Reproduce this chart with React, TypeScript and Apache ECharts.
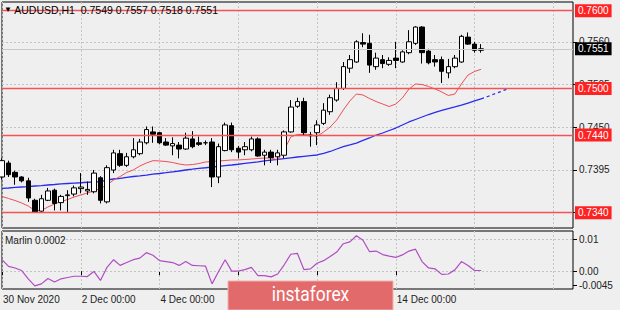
import React, { useEffect, useRef } from 'react';
import * as echarts from 'echarts';

const FONT = '"Liberation Sans", Arial, sans-serif';

const titleSymbol = 'AUDUSD,H1';
const titleOHLC = [0.7549, 0.7557, 0.7518, 0.7551];

const tickLabels = ['30 Nov 2020', '2 Dec 00:00', '4 Dec 00:00', '8 Dec 00:00', '10 Dec 00:00', '14 Dec 00:00', '16 Dec 00:00'];
const barsPerTick = 12;
const slotCount = 88;

// [open, close, low, high]
const candles = [
  [0.7386, 0.7407, 0.7383, 0.7410], [0.7404, 0.7389, 0.7386, 0.7407], [0.7392, 0.7386, 0.7376, 0.7394],
  [0.7386, 0.7381, 0.7379, 0.7387], [0.7381, 0.7359, 0.7354, 0.7385], [0.7356, 0.7341, 0.7340, 0.7358],
  [0.7342, 0.7358, 0.7341, 0.7363], [0.7356, 0.7368, 0.7355, 0.7372], [0.7369, 0.7352, 0.7343, 0.7371],
  [0.7353, 0.7361, 0.7343, 0.7363], [0.7362, 0.7363, 0.7341, 0.7369], [0.7364, 0.7372, 0.7361, 0.7375],
  [0.7371, 0.7373, 0.7365, 0.7391], [0.7368, 0.7370, 0.7363, 0.7380], [0.7367, 0.7391, 0.7365, 0.7395],
  [0.7385, 0.7356, 0.7352, 0.7387], [0.7354, 0.7398, 0.7352, 0.7401], [0.7395, 0.7417, 0.7391, 0.7421],
  [0.7416, 0.7401, 0.7399, 0.7421], [0.7401, 0.7412, 0.7399, 0.7417], [0.7412, 0.7421, 0.7410, 0.7436],
  [0.7416, 0.7431, 0.7414, 0.7435], [0.7430, 0.7447, 0.7428, 0.7451], [0.7444, 0.7441, 0.7430, 0.7451],
  [0.7443, 0.7430, 0.7428, 0.7444], [0.7431, 0.7427, 0.7426, 0.7436], [0.7426, 0.7429, 0.7414, 0.7437],
  [0.7427, 0.7422, 0.7410, 0.7431], [0.7422, 0.7436, 0.7421, 0.7443], [0.7435, 0.7425, 0.7423, 0.7445],
  [0.7430, 0.7428, 0.7426, 0.7438], [0.7430, 0.7430, 0.7427, 0.7433], [0.7431, 0.7386, 0.7373, 0.7436],
  [0.7386, 0.7425, 0.7378, 0.7429], [0.7420, 0.7453, 0.7419, 0.7456], [0.7452, 0.7421, 0.7418, 0.7456],
  [0.7423, 0.7418, 0.7410, 0.7426], [0.7421, 0.7425, 0.7414, 0.7431], [0.7421, 0.7435, 0.7419, 0.7438],
  [0.7435, 0.7413, 0.7412, 0.7437], [0.7414, 0.7418, 0.7401, 0.7421], [0.7418, 0.7411, 0.7404, 0.7421],
  [0.7412, 0.7417, 0.7401, 0.7421], [0.7414, 0.7444, 0.7410, 0.7446], [0.7444, 0.7476, 0.7443, 0.7485],
  [0.7477, 0.7483, 0.7475, 0.7488], [0.7483, 0.7443, 0.7440, 0.7488], [0.7440, 0.7439, 0.7425, 0.7444],
  [0.7443, 0.7453, 0.7427, 0.7459], [0.7455, 0.7472, 0.7453, 0.7481], [0.7470, 0.7488, 0.7466, 0.7492],
  [0.7485, 0.7500, 0.7483, 0.7508], [0.7500, 0.7528, 0.7498, 0.7534], [0.7526, 0.7537, 0.7520, 0.7543],
  [0.7534, 0.7560, 0.7533, 0.7562], [0.7559, 0.7557, 0.7553, 0.7571], [0.7558, 0.7530, 0.7520, 0.7569],
  [0.7528, 0.7539, 0.7524, 0.7546], [0.7537, 0.7532, 0.7526, 0.7543], [0.7531, 0.7536, 0.7529, 0.7540],
  [0.7539, 0.7536, 0.7526, 0.7560], [0.7534, 0.7547, 0.7533, 0.7549], [0.7546, 0.7560, 0.7544, 0.7575],
  [0.7558, 0.7579, 0.7556, 0.7580], [0.7579, 0.7546, 0.7532, 0.7580], [0.7548, 0.7533, 0.7531, 0.7551],
  [0.7537, 0.7534, 0.7528, 0.7543], [0.7537, 0.7522, 0.7507, 0.7541], [0.7520, 0.7528, 0.7513, 0.7538],
  [0.7528, 0.7539, 0.7526, 0.7543], [0.7534, 0.7567, 0.7533, 0.7569], [0.7566, 0.7557, 0.7556, 0.7572],
  [0.7557, 0.7549, 0.7546, 0.7560], [0.7549, 0.7551, 0.7546, 0.7557],
];

const fastMA = [
  0.73609, 0.73583, 0.73557, 0.73525, 0.73486, 0.73429, 0.73429, 0.73474, 0.73512, 0.73544,
  0.7357, 0.73602, 0.73628, 0.73654, 0.7368, 0.73712, 0.73757, 0.73821, 0.73866, 0.73918,
  0.7395, 0.74001, 0.7404, 0.7407, 0.74066, 0.74059, 0.74046, 0.74027, 0.74014, 0.7402,
  0.74033, 0.74053, 0.74059, 0.74066, 0.74072, 0.74079, 0.74079, 0.74085, 0.74091, 0.74098,
  0.74104, 0.74104, 0.74079, 0.74207, 0.74375, 0.74407, 0.74407, 0.744, 0.74381, 0.74439,
  0.74503, 0.74593, 0.74722, 0.74838, 0.74928, 0.74915, 0.7487, 0.74831, 0.74799, 0.74767,
  0.74799, 0.74876, 0.74992, 0.75057, 0.7505, 0.75024, 0.74992, 0.74954, 0.74909, 0.74928,
  0.75057, 0.75172, 0.75218, 0.75246,
];

const slowMA = [
  0.73714, 0.73718, 0.73725, 0.73731, 0.73737, 0.73744, 0.7375, 0.73757, 0.73763, 0.7377,
  0.73776, 0.73782, 0.73786, 0.73792, 0.73795, 0.73799, 0.73821, 0.73834, 0.73843, 0.73856,
  0.73866, 0.73875, 0.73885, 0.73896, 0.73905, 0.73915, 0.73927, 0.73937, 0.7395, 0.7396,
  0.73972, 0.73979, 0.73988, 0.73997, 0.74006, 0.74014, 0.74024, 0.74035, 0.74045, 0.74055,
  0.74066, 0.74076, 0.74086, 0.74096, 0.74107, 0.74117, 0.74126, 0.74135, 0.74143, 0.74165,
  0.74188, 0.7422, 0.7425, 0.74272, 0.74297, 0.7433, 0.74362, 0.744, 0.74426, 0.74458,
  0.7449, 0.74529, 0.74568, 0.746, 0.74632, 0.74664, 0.7469, 0.74716, 0.74741, 0.74761,
  0.74786, 0.74812, 0.74838, 0.74864,
];
const slowMAProjection = [0.74864, 0.74896, 0.74928, 0.7496, 0.74992];

const marlin = [
  0.0036, 0.0015, 0.0010, 0.0002, -0.0024, -0.0046, -0.0040, -0.0023, -0.0034, -0.0024,
  -0.0020, -0.0016, -0.0016, -0.0017, -0.0001, -0.0029, 0.0012, 0.0036, 0.0018, 0.0027,
  0.0036, 0.0041, 0.0058, 0.0050, 0.0033, 0.0030, 0.0027, 0.0018, 0.0030, 0.0018,
  0.0017, 0.0016, -0.0040, -0.0001, 0.0036, 0.0000, 0.0000, 0.0005, 0.0012, -0.0014,
  -0.0014, -0.0018, -0.0009, 0.0020, 0.0053, 0.0056, 0.0005, 0.0007, 0.0025, 0.0033,
  0.0046, 0.0060, 0.0086, 0.0092, 0.0111, 0.0097, 0.0061, 0.0063, 0.0052, 0.0047,
  0.0043, 0.0051, 0.0063, 0.0069, 0.0030, 0.0010, 0.0007, -0.0010, -0.0009, 0.0004,
  0.0030, 0.0018, 0.0002, 0.0002,
];

const levels = [0.76, 0.75, 0.744, 0.734];
const lastPrice = 0.7551;
const priceTicks = [0.734, 0.7395, 0.745, 0.7505, 0.756];
const marlinTicks = [0.01, 0, -0.0045];
const marlinTickLabels = ['0.01', '0.00', '-0.0045'];
const marlinGrid = [0.01, 0];

export default function App() {
  const ref = useRef<HTMLDivElement>(null);

  useEffect(() => {
    document.body.style.margin = '0';
    const chart = echarts.init(ref.current!, null, { renderer: 'svg' });
    const categories = Array.from({ length: slotCount }, (_, i) => String(i));
    const isTick = (i: number) => i % barsPerTick === 0;
    const isLabel = (i: number) => isTick(i) && i / barsPerTick < tickLabels.length;
    const projData = categories.map((_, i) =>
      i >= slowMA.length - 1 && i - (slowMA.length - 1) < slowMAProjection.length
        ? slowMAProjection[i - (slowMA.length - 1)]
        : null
    );
    const gridSplit = { show: true, interval: (i: number) => isTick(i), lineStyle: { color: '#c4c4c4', type: [2, 2] as any, width: 1 } };
    const boxLabel = (text: string, bg: string) => ({
      show: true, position: 'end', distance: 2, formatter: text,
      color: '#fff', backgroundColor: bg, padding: [2, 3, 1, 3], fontSize: 10, fontFamily: FONT,
    });

    const option: any = {
      animation: false,
      backgroundColor: '#efefef',
      textStyle: { fontFamily: FONT },
      title: [
        {
          text: '{t|▼} ' + titleSymbol + '  ' + titleOHLC.map((v) => v.toFixed(4)).join(' '),
          left: 4,
          top: 4,
          padding: 0,
          textStyle: { fontSize: 10.5, fontWeight: 'normal', color: '#000', fontFamily: FONT, rich: { t: { fontSize: 8, color: '#000' } } },
        },
        {
          text: 'Marlin ' + marlin[marlin.length - 1].toFixed(4),
          left: 5,
          top: 235,
          padding: 0,
          textStyle: { fontSize: 10, fontWeight: 'normal', color: '#222', fontFamily: FONT },
        },
      ],
      grid: [
        { left: 2, right: 47, top: 2, height: 226, show: true, borderColor: '#000', borderWidth: 1, backgroundColor: 'transparent' },
        { left: 2, right: 47, top: 231, height: 58, show: true, borderColor: '#000', borderWidth: 1, backgroundColor: 'transparent' },
      ],
      xAxis: [
        {
          type: 'category', gridIndex: 0, data: categories, boundaryGap: false,
          axisLine: { show: false }, axisTick: { show: false }, axisLabel: { show: false },
          splitLine: gridSplit,
        },
        {
          type: 'category', gridIndex: 1, data: categories, boundaryGap: false,
          axisLine: { show: false },
          axisTick: { show: true, interval: (i: number) => isLabel(i), length: 4, lineStyle: { color: '#000' } },
          axisLabel: {
            show: true, interval: (i: number) => isLabel(i), showMaxLabel: false,
            formatter: (v: string) => tickLabels[Number(v) / barsPerTick] ?? '',
            align: 'left', margin: 5, fontSize: 10, color: '#222', fontFamily: FONT, padding: [0, 0, 0, 1],
          },
          splitLine: gridSplit,
        },
      ],
      yAxis: [
        {
          type: 'value', gridIndex: 0, position: 'right', min: 0.732034, max: 0.76112,
          axisLine: { show: false },
          axisTick: { show: true, customValues: priceTicks, length: 4, lineStyle: { color: '#000' } },
          axisLabel: { show: true, customValues: priceTicks, hideOverlap: false, formatter: (v: number) => v.toFixed(4), fontSize: 10, color: '#222', margin: 6, fontFamily: FONT },
          splitLine: { show: false },
        },
        {
          type: 'value', gridIndex: 1, position: 'right', min: -0.0056, max: 0.0126,
          axisLine: { show: false },
          axisTick: { show: true, customValues: marlinTicks, length: 4, lineStyle: { color: '#000' } },
          axisLabel: {
            show: true, customValues: marlinTicks,
            formatter: (v: number) => {
              const idx = marlinTicks.findIndex((t) => Math.abs(t - v) < 1e-9);
              return idx >= 0 ? marlinTickLabels[idx] : '';
            },
            fontSize: 10, color: '#222', margin: 6, fontFamily: FONT,
          },
          splitLine: { show: false },
        },
      ],
      series: [
        {
          id: 'slowMA', type: 'line', xAxisIndex: 0, yAxisIndex: 0, data: slowMA, showSymbol: false, symbol: 'none',
          lineStyle: { color: '#2a2af0', width: 1.3 }, z: 3,
          markLine: {
            silent: true, symbol: ['none', 'none'], z: 1, animation: false, precision: 6,
            label: { show: false },
            lineStyle: { color: '#c4c4c4', type: [2, 2], width: 1 },
            data: priceTicks.map((v) => ({ yAxis: v })),
          },
        },
        {
          id: 'slowMAProj', type: 'line', xAxisIndex: 0, yAxisIndex: 0, data: projData, showSymbol: false, symbol: 'none',
          lineStyle: { color: '#2a2af0', width: 1.3, type: [3, 3] }, z: 3,
        },
        {
          id: 'fastMA', type: 'line', xAxisIndex: 0, yAxisIndex: 0, data: fastMA, showSymbol: false, symbol: 'none',
          lineStyle: { color: '#ee4d58', width: 1 }, z: 3,
          markLine: {
            silent: true, symbol: ['none', 'none'], animation: false, z: 6, precision: 6,
            data: [
              {
                yAxis: lastPrice,
                lineStyle: { color: '#c8c8c8', width: 1, type: 'solid' },
                label: boxLabel(lastPrice.toFixed(4), '#000'),
              },
              ...levels.map((v) => ({
                yAxis: v,
                lineStyle: { color: '#f55353', width: 1.4, type: 'solid' },
                label: boxLabel(v.toFixed(4), '#ff2222'),
              })),
            ],
          },
        },
        {
          id: 'candles', type: 'candlestick', xAxisIndex: 0, yAxisIndex: 0, data: candles, barWidth: 5, z: 4,
          itemStyle: { color: '#ffffff', color0: '#000000', borderColor: '#000000', borderColor0: '#000000', borderWidth: 1 },
        },
        {
          id: 'marlin', type: 'line', xAxisIndex: 1, yAxisIndex: 1, data: marlin, showSymbol: false, symbol: 'none',
          lineStyle: { color: '#b04cc4', width: 1.2 }, z: 3,
          markLine: {
            silent: true, symbol: ['none', 'none'], z: 1, animation: false, precision: 6,
            label: { show: false },
            lineStyle: { color: '#c4c4c4', type: [2, 2], width: 1 },
            data: marlinGrid.map((v) => ({ yAxis: v })),
          },
        },
      ],
      graphic: [
        {
          type: 'rect', z: 100, shape: { x: 228, y: 281, width: 165, height: 29 },
          style: { fill: '#e36a6a', stroke: '#f3b0b0', lineWidth: 1 },
        },
        {
          type: 'text', z: 101, x: 310.5, y: 295, scaleX: 0.87,
          style: { text: 'instaforex', fill: '#ffffff', font: '20px Roboto', textAlign: 'center', textVerticalAlign: 'middle' },
        },
      ],
    };
    chart.setOption(option);
    return () => chart.dispose();
  }, []);

  return <div ref={ref} style={{ width: 620, height: 310, position: 'absolute', left: 0, top: 0 }} />;
}
